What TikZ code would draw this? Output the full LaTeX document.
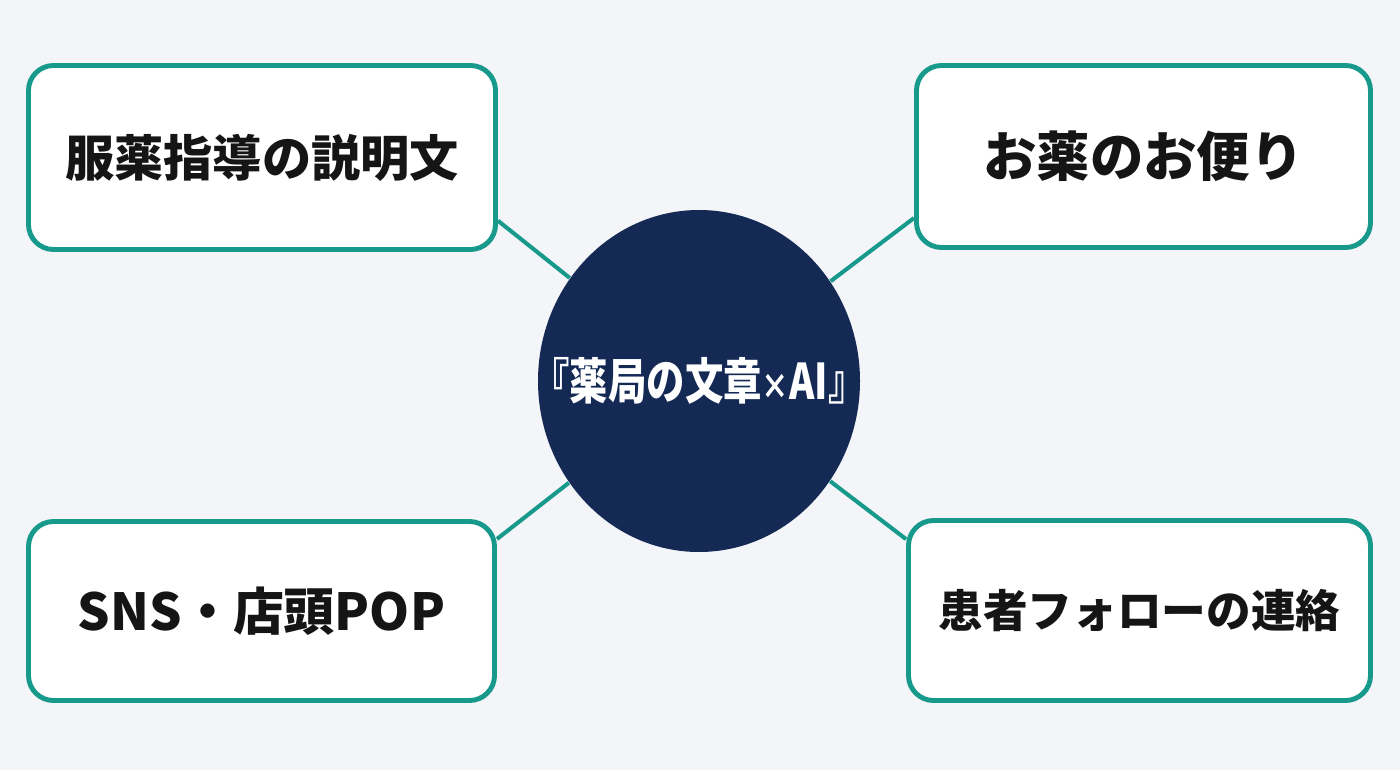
\documentclass[tikz,border=0pt]{standalone}
\usepackage{fontspec}
\setmainfont{Noto Sans CJK JP}
\usepackage{tikz}
\usetikzlibrary{shapes.geometric, calc}
\definecolor{fondo}{HTML}{F3F5F8}
\definecolor{azul}{HTML}{142A55}
\definecolor{verde}{HTML}{17998C}
\definecolor{tinta}{HTML}{151515}
\tikzset{
  tema/.style={ellipse, minimum width=3.22cm, minimum height=3.42cm, inner sep=0pt, fill=azul, text=white, font=\bfseries\fontsize{14}{16}\selectfont},
  rama/.style={rectangle, rounded corners=0.25cm, draw=verde, line width=1.4pt, fill=white, inner sep=0pt, text=tinta},
  enlace/.style={draw=verde, line width=1.15pt}
}

\begin{document}
\begin{tikzpicture}
            % --- Fondo ---
            \fill[fondo] (0,0) rectangle (14,7.7);
            \useasboundingbox (0,0) rectangle (14,7.7);

            % --- Nodos ---
            \node (centro) [tema] at (6.99,3.89) {\makebox[0pt]{\scalebox{0.78}[1]{『薬局の文章{\fontsize{10}{12}\selectfont ×}AI』}}};
            \node (guia) [rama, minimum width=4.67cm, minimum height=1.84cm, font=\bfseries\fontsize{14}{16}\selectfont] at (2.62,6.125) {服薬指導の説明文};
            \node (tayori) [rama, minimum width=4.54cm, minimum height=1.82cm, font=\bfseries\fontsize{15.2}{17}\selectfont] at (11.435,6.135) {お薬のお便り};
            \node (pop) [rama, minimum width=4.66cm, minimum height=1.79cm, font=\bfseries\fontsize{14.5}{16}\selectfont] at (2.615,1.59) {SNS・店頭POP};
            \node (seguimiento) [rama, minimum width=4.62cm, minimum height=1.80cm, font=\bfseries\fontsize{12.7}{15}\selectfont] at (11.395,1.595) {患者フォローの連絡};

            % --- Conexiones ---
            \draw [enlace] (centro) -- (guia.-15);
            \draw [enlace] (centro) -- (tayori.-165);
            \draw [enlace] (centro) -- (pop.17);
            \draw [enlace] (centro) -- (seguimiento.163);

        \end{tikzpicture}
\end{document}
